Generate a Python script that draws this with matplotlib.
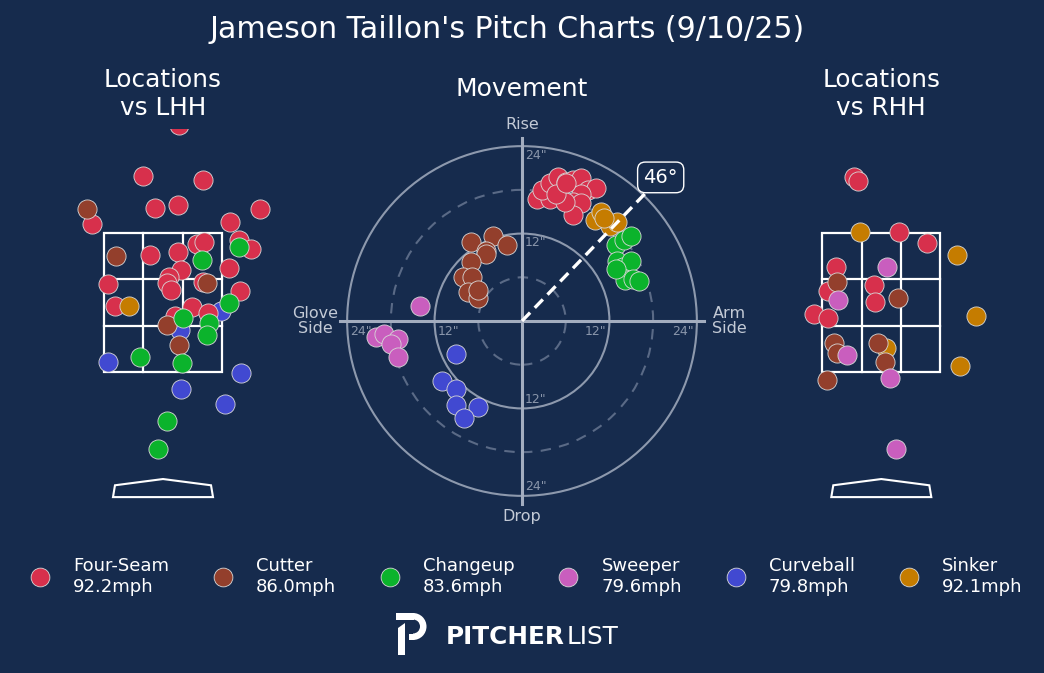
import matplotlib.pyplot as plt
from matplotlib.patches import Circle, Rectangle, Wedge, Polygon
from matplotlib.lines import Line2D
import numpy as np

BG = '#162b4d'

pitch_names = ['Four-Seam', 'Cutter', 'Changeup', 'Sweeper', 'Curveball', 'Sinker']
pitch_speeds = ['92.2mph', '86.0mph', '83.6mph', '79.6mph', '79.8mph', '92.1mph']
pitch_colors = ['#d7304c', '#933f2c', '#0bb32c', '#c95ebe', '#4149d1', '#c57c00']

# locations vs LHH, (plate_x ft, plate_z ft)
lhh_ff = [(0.22, 5.05), (-0.29, 4.32), (0.57, 4.26), (-0.11, 3.86), (0.21, 3.90), (1.37, 3.85),
          (-1.01, 3.63), (0.95, 3.66), (1.08, 3.40), (1.24, 3.27), (-0.18, 3.19), (0.21, 3.23),
          (0.48, 3.34), (0.58, 3.37), (0.25, 2.97), (0.94, 3.00), (0.08, 2.87), (0.05, 2.78),
          (0.12, 2.68), (0.56, 2.79), (-0.78, 2.76), (1.09, 2.66), (-0.68, 2.45), (0.41, 2.44),
          (0.64, 2.35), (0.17, 2.30)]
lhh_fc = [(-1.08, 3.85), (-0.67, 3.17), (0.62, 2.78), (0.06, 2.17), (0.23, 1.89)]
lhh_ch = [(1.08, 3.30), (0.55, 3.11), (0.94, 2.50), (0.29, 2.27), (0.65, 2.21), (0.63, 2.03),
          (-0.33, 1.72), (0.27, 1.63), (0.05, 0.80), (-0.07, 0.39)]
lhh_st = []
lhh_cu = [(0.82, 2.38), (0.24, 2.11), (-0.78, 1.64), (1.10, 1.49), (0.25, 1.25), (0.88, 1.04)]
lhh_si = [(-0.48, 2.45)]

# locations vs RHH
rhh_ff = [(-0.39, 4.31), (-0.33, 4.25), (0.25, 3.52), (0.64, 3.35), (-0.64, 3.01), (-0.76, 2.67),
          (-0.10, 2.75), (-0.09, 2.51), (-0.95, 2.34), (-0.75, 2.27)]
rhh_fc = [(-0.63, 2.80), (0.23, 2.56), (-0.67, 1.92), (-0.63, 1.77), (-0.04, 1.92), (0.05, 1.65),
          (-0.77, 1.39)]
rhh_ch = []
rhh_st = [(0.08, 3.01), (-0.61, 2.53), (-0.48, 1.75), (0.12, 1.42), (0.21, 0.39)]
rhh_cu = []
rhh_si = [(-0.30, 3.51), (1.07, 3.19), (1.34, 2.30), (0.07, 1.85), (1.12, 1.58)]

# movement (horizontal break in, induced vertical break in)
mov_ff = [(2.0, 16.7), (3.8, 16.7), (2.7, 18.0), (3.9, 18.9), (5.0, 19.8), (6.0, 19.1), (7.0, 19.3),
          (8.1, 19.6), (9.1, 18.0), (10.2, 18.3), (8.1, 17.5), (7.0, 16.4), (8.1, 16.2), (7.0, 14.5),
          (5.9, 16.4), (4.7, 17.5), (6.1, 18.9)]
mov_fc = [(-7.0, 10.8), (-4.0, 11.7), (-2.0, 10.5), (-5.0, 9.6), (-5.0, 9.2), (-7.0, 8.1),
          (-8.1, 6.1), (-6.9, 6.1), (-7.4, 4.0), (-6.0, 3.1), (-6.0, 4.3)]
mov_ch = [(12.9, 10.4), (14.0, 11.1), (15.0, 11.7), (13.0, 8.3), (13.9, 7.4), (15.0, 8.3),
          (14.1, 5.6), (15.3, 5.7), (16.1, 5.5), (12.9, 7.2)]
mov_st = [(-14.0, 2.0), (-20.0, -2.2), (-19.0, -1.8), (-17.0, -2.5), (-18.0, -3.2), (-17.0, -4.9)]
mov_cu = [(-9.0, -4.5), (-11.0, -8.2), (-9.0, -9.4), (-9.0, -11.5), (-6.0, -11.8), (-8.0, -13.3)]
mov_si = [(10.0, 13.9), (10.9, 15.0), (12.1, 13.0), (13.1, 13.6), (11.2, 14.1)]

arm_angle = 46

lhh = [lhh_ff, lhh_fc, lhh_ch, lhh_st, lhh_cu, lhh_si]
rhh = [rhh_ff, rhh_fc, rhh_ch, rhh_st, rhh_cu, rhh_si]
mov = [mov_ff, mov_fc, mov_ch, mov_st, mov_cu, mov_si]
draw_order = [4, 0, 5, 1, 2, 3]

W, H = 1044, 673
fig = plt.figure(figsize=(W / 100, H / 100), dpi=100, facecolor=BG)


def px_axes(x0, y0, x1, y1):
    # axes placed by pixel box (top-left origin)
    ax = fig.add_axes([x0 / W, 1 - y1 / H, (x1 - x0) / W, (y1 - y0) / H])
    ax.set_facecolor(BG)
    ax.axis('off')
    return ax


def location_panel(cx, data, title):
    ax = px_axes(cx - 113, 128.75, cx + 113, 511)
    ax.set_xlim(-1.6, 1.6)
    ax.set_ylim(-0.5, 5.0)
    ax.add_patch(Rectangle((-0.835, 1.5), 1.67, 2.0, fill=False, ec='white', lw=1.6, zorder=1))
    for gx in (-0.278, 0.278):
        ax.plot([gx, gx], [1.5, 3.5], color='white', lw=1.6, zorder=1)
    for gz in (2.167, 2.833):
        ax.plot([-0.835, 0.835], [gz, gz], color='white', lw=1.6, zorder=1)
    plate = [(-0.708, -0.30), (0.708, -0.30), (0.68, -0.13), (0.0, -0.04), (-0.68, -0.13)]
    ax.add_patch(Polygon(plate, closed=True, fill=False, ec='white', lw=1.5))
    for i in draw_order:
        if data[i]:
            xs, zs = zip(*data[i])
            ax.scatter(xs, zs, s=190, c=pitch_colors[i], edgecolors='#d8d8d8', linewidths=0.6, zorder=3)
    fig.text(cx / W, 1 - 94 / H, title, ha='center', va='center', color='white', fontsize=17.8,
             linespacing=1.2)


location_panel(163, lhh, 'Locations\nvs LHH')
location_panel(881.3, rhh, 'Locations\nvs RHH')

# movement panel
ax = px_axes(318, 117, 726, 525)
ax.set_xlim(-28, 28)
ax.set_ylim(-28, 28)
ring = '#a3adbf'
for r in (12, 24):
    ax.add_patch(Circle((0, 0), r, fill=False, ec=ring, lw=1.5, alpha=0.85))
for r in (6, 18):
    ax.add_patch(Circle((0, 0), r, fill=False, ec='#5a6a86', lw=1.5, ls=(0, (5, 4))))
ax.plot([-25, 25], [0, 0], color=ring, lw=2.2)
ax.plot([0, 0], [-25.1, 25.1], color=ring, lw=2.2)

tick_c = '#8a96ab'
for r in (12, 24):
    ax.text(0.4, r - 0.4, f'{r}"', color=tick_c, fontsize=9, ha='left', va='top')
    ax.text(0.4, -r + 0.4, f'{r}"', color=tick_c, fontsize=9, ha='left', va='bottom')
    ax.text(r - 0.4, -0.5, f'{r}"', color=tick_c, fontsize=9, ha='right', va='top')
    ax.text(-r + 0.4, -0.5, f'{r}"', color=tick_c, fontsize=9, ha='left', va='top')

lab_c = '#c3cad6'
ax.text(0, 27.0, 'Rise', color=lab_c, fontsize=11.5, ha='center', va='center', clip_on=False)
ax.text(0, -26.9, 'Drop', color=lab_c, fontsize=11.5, ha='center', va='center', clip_on=False)
ax.text(-28.4, 0, 'Glove\nSide', color=lab_c, fontsize=11.5, ha='center', va='center',
        linespacing=0.95, clip_on=False)
ax.text(28.5, 0, 'Arm\nSide', color=lab_c, fontsize=11.5, ha='center', va='center',
        linespacing=0.95, clip_on=False)

for i in draw_order:
    xs, ys = zip(*mov[i])
    ax.scatter(xs, ys, s=190, c=pitch_colors[i], edgecolors='#d8d8d8', linewidths=0.6, zorder=3)

ang = np.radians(arm_angle)
ax.plot([0, 24.3 * np.cos(ang)], [0, 24.3 * np.sin(ang)], color='white', lw=2.4,
        ls=(0, (3.5, 2)), zorder=5)
ax.text(27.4 * np.cos(ang), 27.4 * np.sin(ang), f'{arm_angle}°', color='white', fontsize=14,
        ha='center', va='center', zorder=6,
        bbox=dict(boxstyle='round,pad=0.3,rounding_size=0.4', fc=BG, ec='white', lw=1))
fig.text(522 / W, 1 - 89 / H, 'Movement', ha='center', va='center', color='white', fontsize=18)

fig.text(507 / W, 1 - 29 / H, "Jameson Taillon's Pitch Charts (9/10/25)", ha='center', va='center',
         color='white', fontsize=21.6)

# legend
handles = [Line2D([], [], ls='none', marker='o', markersize=13.5, markerfacecolor=c,
                  markeredgecolor='#d8d8d8', markeredgewidth=0.6) for c in pitch_colors]
labels = [f'{n}\n{s}' for n, s in zip(pitch_names, pitch_speeds)]
fig.legend(handles, labels, loc='center', bbox_to_anchor=(522 / W, 1 - 576.5 / H), ncol=6,
           frameon=False, fontsize=13, labelcolor='white', handlelength=2,
           handletextpad=0.83, columnspacing=1.98)

# logo
lg = px_axes(0, 0, W, H)
lg.set_xlim(0, W)
lg.set_ylim(H, 0)
lg.add_patch(Polygon([(398, 628), (405, 623), (405, 655), (398, 655)], closed=True, fc='white', ec='none'))
lg.add_patch(Rectangle((396, 613), 18, 6.5, fc='white', ec='none'))
lg.add_patch(Wedge((413, 626.5), 13.5, -90, 90, width=6.5, fc='white', ec='none'))
lg.add_patch(Rectangle((409, 633.5), 4.5, 6.5, fc='white', ec='none'))
lg.text(446, 637, 'PITCHER', color='white', fontsize=17.8, fontweight='bold', ha='left', va='center')
lg.text(567, 637, 'LIST', color='white', fontsize=17.8, ha='left', va='center')

fig.savefig('out.png', dpi=100, facecolor=BG)
